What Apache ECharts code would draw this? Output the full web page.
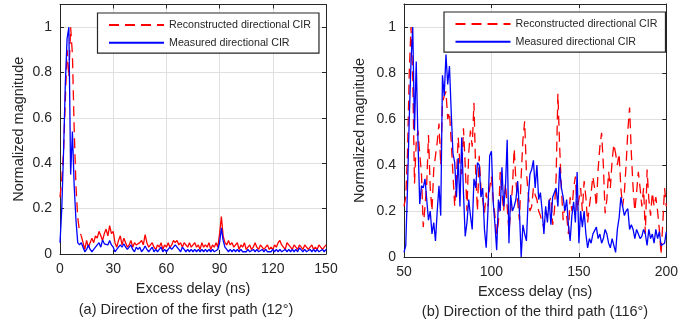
<!DOCTYPE html>
<html>
<head>
<meta charset="utf-8">
<script src="https://cdn.jsdelivr.net/npm/echarts@6/dist/echarts.min.js"></script>
<style>html,body{margin:0;padding:0;background:#fff;}#chart{width:681px;height:327px;}</style>
</head>
<body>
<div id="chart"></div>
<script>
// ---------- data ----------
const seriesNames = ['Reconstructed directional CIR', 'Measured directional CIR'];
const captions = ['(a) Direction of the first path (12°)', '(b) Direction of the third path (116°)'];
const xLabel = 'Excess delay (ns)';
const yLabel = 'Normalized magnitude';
const leftDelayStart = 0;   // ns, sample spacing 1 ns
const rightDelayStart = 50; // ns, sample spacing 1 ns
const delayStep = 1;
const leftXTicks = [0, 150, 30];   // min, max, interval
const rightXTicks = [50, 200, 50];
const yTicks = [0, 1.1, 0.2];

// (a) first path, 0..150 ns
const leftReconstructed = [
  0.25,0.33,0.45,0.68,0.90,0.78,1.00,0.88,0.55,0.30,0.16,0.10,0.08,
  0.05,0.02,0.06,0.03,0.05,0.07,0.05,0.08,
  0.07,0.10,0.08,0.06,0.09,0.11,0.08,0.125,0.09,0.10,
  0.05,0.03,0.06,0.08,0.04,0.07,0.05,0.03,0.04,0.06,
  0.03,0.05,0.04,0.04,0.05,0.06,0.04,0.085,0.05,0.03,
  0.04,0.05,0.03,0.02,0.04,0.03,0.05,0.02,0.04,0.03,
  0.05,0.03,0.04,0.06,0.05,0.06,0.04,0.05,0.03,0.05,
  0.04,0.03,0.05,0.03,0.04,0.05,0.03,0.04,0.02,0.05,
  0.03,0.04,0.03,0.05,0.02,0.04,0.03,0.05,0.03,0.09,
  0.165,0.08,0.05,0.04,0.06,0.04,0.05,0.03,0.04,0.05,
  0.02,0.04,0.03,0.05,0.02,0.03,0.04,0.02,0.03,0.05,
  0.03,0.02,0.04,0.03,0.02,0.03,0.04,0.02,0.03,0.02,
  0.04,0.03,0.05,0.06,0.04,0.03,0.02,0.05,0.04,0.03,
  0.02,0.04,0.03,0.02,0.04,0.03,0.02,0.04,0.03,0.02,
  0.03,0.04,0.02,0.03,0.02,0.04,0.03,0.02,0.03,0.04
];
const leftMeasured = [
  0.05,0.20,0.45,0.75,0.95,1.00,0.35,0.54,0.30,0.15,0.05,0.04,0.05,
  0.03,0.01,0.02,0.04,0.02,0.01,0.02,0.03,
  0.04,0.05,0.03,0.062,0.045,0.05,0.04,0.06,0.04,0.03,
  0.01,0.02,0.03,0.04,0.03,0.045,0.03,0.02,0.03,0.04,
  0.02,0.01,0.03,0.02,0.03,0.01,0.02,0.035,0.02,0.01,
  0.02,0.03,0.01,0.02,0.01,0.02,0.03,0.01,0.02,0.01,
  0.02,0.03,0.02,0.03,0.04,0.03,0.02,0.01,0.03,0.02,
  0.01,0.02,0.01,0.02,0.01,0.02,0.01,0.02,0.01,0.02,
  0.01,0.02,0.01,0.02,0.01,0.02,0.01,0.01,0.02,0.05,
  0.115,0.06,0.03,0.02,0.01,0.02,0.01,0.02,0.01,0.02,
  0.01,0.02,0.01,0.015,0.01,0.02,0.01,0.01,0.02,0.01,
  0.02,0.01,0.01,0.02,0.01,0.02,0.01,0.015,0.01,0.02,
  0.01,0.02,0.01,0.02,0.01,0.01,0.02,0.01,0.02,0.01,
  0.02,0.01,0.02,0.01,0.027,0.02,0.01,0.02,0.01,0.01,
  0.02,0.01,0.02,0.01,0.02,0.01,0.01,0.02,0.01,0.02
];

// (b) third path, 50..200 ns
const rightReconstructed = [
  0.22,0.26,0.45,0.80,1.00,0.78,0.32,0.50,0.55,0.45,
  0.36,0.13,0.22,0.32,0.53,0.30,0.20,0.38,0.44,0.50,
  0.58,0.40,0.67,0.70,0.72,0.60,0.63,0.50,0.36,0.22,
  0.35,0.52,0.40,0.36,0.56,0.40,0.20,0.45,0.55,0.48,
  0.67,0.37,0.20,0.44,0.30,0.25,0.19,0.28,0.22,0.30,
  0.35,0.25,0.18,0.10,0.15,0.37,0.28,0.20,0.32,0.22,
  0.11,0.20,0.30,0.47,0.33,0.24,0.16,0.35,0.51,0.59,
  0.37,0.28,0.20,0.22,0.30,0.27,0.25,0.20,0.18,0.15,
  0.13,0.20,0.18,0.24,0.26,0.14,0.20,0.35,0.71,0.48,
  0.30,0.16,0.22,0.18,0.10,0.26,0.20,0.30,0.35,0.20,
  0.25,0.30,0.20,0.33,0.26,0.15,0.22,0.28,0.35,0.30,
  0.22,0.38,0.48,0.54,0.40,0.19,0.25,0.37,0.30,0.42,
  0.49,0.45,0.40,0.45,0.30,0.22,0.28,0.40,0.55,0.65,
  0.45,0.30,0.20,0.28,0.37,0.30,0.22,0.30,0.10,0.38,
  0.25,0.18,0.28,0.22,0.26,0.20,0.12,0.01,0.15,0.30,
  0.22
];
const rightMeasured = [
  0.02,0.05,0.30,0.60,0.85,1.00,0.55,0.85,0.50,0.23,
  0.31,0.30,0.34,0.25,0.16,0.20,0.10,0.15,0.07,0.20,
  0.31,0.18,0.79,0.70,0.88,0.75,0.83,0.63,0.45,0.41,
  0.26,0.43,0.22,0.52,0.28,0.09,0.15,0.25,0.18,0.12,
  0.34,0.30,0.41,0.40,0.26,0.30,0.12,0.04,0.20,0.44,
  0.46,0.24,0.14,0.03,0.25,0.20,0.39,0.22,0.30,0.51,
  0.06,0.27,0.20,0.22,0.25,0.33,0.20,0.00,0.14,0.10,
  0.07,0.25,0.36,0.38,0.42,0.30,0.40,0.25,0.28,0.20,
  0.10,0.22,0.15,0.25,0.14,0.26,0.28,0.30,0.22,0.39,
  0.30,0.26,0.20,0.25,0.14,0.07,0.18,0.24,0.15,0.37,
  0.06,0.20,0.13,0.20,0.10,0.04,0.08,0.06,0.10,0.10,
  0.13,0.08,0.10,0.06,0.08,0.12,0.10,0.06,0.04,0.08,
  0.05,0.02,0.12,0.17,0.26,0.22,0.18,0.20,0.21,0.12,
  0.14,0.12,0.08,0.12,0.10,0.08,0.09,0.12,0.10,0.05,
  0.12,0.08,0.10,0.06,0.12,0.08,0.11,0.05,0.05,0.06,
  0.11
];

// ---------- chart ----------
const RED = '#ff0000', BLUE = '#0000ff', INK = '#262626', GRIDC = '#e0e0e0';
const FONT = 'Liberation Sans';
const DASH = [10, 6];

function pairs(arr, start, from, to) {
  const out = [];
  const end = to === undefined ? arr.length - 1 : to;
  for (let i = from; i <= end; i++) out.push([start + i * delayStep, arr[i]]);
  return out;
}

const grids = [
  { left: 60, right: 355, top: 4.5, bottom: 73 },
  { left: 404, right: 10, top: 4, bottom: 70 }
];

function xAxes(gi, t) {
  const base = { gridIndex: gi, type: 'value', min: t[0], max: t[1], interval: t[2] };
  return [
    Object.assign({}, base, {
      position: 'bottom',
      axisLine: { show: true, onZero: false, lineStyle: { color: INK, width: 1 } },
      axisTick: { show: true, inside: true, length: 4, lineStyle: { color: INK } },
      axisLabel: { color: INK, fontSize: 14, fontFamily: FONT, margin: 8 },
      splitLine: { show: true, lineStyle: { color: GRIDC, width: 1 } },
      name: xLabel, nameLocation: 'middle', nameGap: 27,
      nameTextStyle: { color: INK, fontSize: 14.5, fontFamily: FONT }
    }),
    Object.assign({}, base, {
      position: 'top',
      axisLine: { show: true, onZero: false, lineStyle: { color: INK, width: 1 } },
      axisTick: { show: true, inside: true, length: 4, lineStyle: { color: INK } },
      axisLabel: { show: false }, splitLine: { show: false }
    })
  ];
}
function yAxes(gi, gap) {
  const base = { gridIndex: gi, type: 'value', min: yTicks[0], max: yTicks[1], interval: yTicks[2] };
  return [
    Object.assign({}, base, {
      position: 'left',
      axisLine: { show: true, onZero: false, lineStyle: { color: INK, width: 1 } },
      axisTick: { show: true, inside: true, length: 4, lineStyle: { color: INK } },
      axisLabel: { color: INK, fontSize: 14, fontFamily: FONT, margin: 8, showMaxLabel: false },
      splitLine: { show: true, lineStyle: { color: GRIDC, width: 1 } },
      name: yLabel, nameLocation: 'middle', nameGap: gap,
      nameTextStyle: { color: INK, fontSize: 14.5, fontFamily: FONT }
    }),
    Object.assign({}, base, {
      position: 'right',
      axisLine: { show: true, onZero: false, lineStyle: { color: INK, width: 1 } },
      axisTick: { show: true, inside: true, length: 4, lineStyle: { color: INK } },
      axisLabel: { show: false }, splitLine: { show: false }
    })
  ];
}

function line(name, xi, yi, data, color, dashed) {
  return {
    name: name, type: 'line', xAxisIndex: xi, yAxisIndex: yi, data: data,
    showSymbol: false, symbol: 'none', animation: false, silent: true,
    lineStyle: { color: color, width: 1.3, type: dashed ? DASH : 'solid' },
    itemStyle: { color: color }
  };
}

function legend(left, top) {
  return {
    left: left, top: top, orient: 'vertical',
    data: seriesNames,
    itemWidth: 55, itemHeight: 10, itemGap: 6.7,
    padding: [6.5, 8, 5, 10.5],
    borderColor: INK, borderWidth: 1.2, backgroundColor: '#fff',
    itemStyle: { opacity: 0, borderWidth: 0 },
    textStyle: { color: INK, fontSize: 10.7, fontFamily: FONT },
    selectedMode: false
  };
}

const option = {
  animation: false,
  backgroundColor: '#fff',
  grid: grids,
  xAxis: xAxes(0, leftXTicks).concat(xAxes(1, rightXTicks)),
  yAxis: yAxes(0, 34).concat(yAxes(1, 37)),
  legend: [legend(97.5, 13), legend(444, 12)],
  series: [
    line(seriesNames[0], 0, 0, pairs(leftReconstructed, leftDelayStart, 0, 12), RED, true),
    line('Reconstructed tail', 0, 0, pairs(leftReconstructed, leftDelayStart, 12), RED, false),
    line(seriesNames[1], 0, 0, pairs(leftMeasured, leftDelayStart, 0), BLUE, false),
    line(seriesNames[0], 2, 2, pairs(rightReconstructed, rightDelayStart, 0), RED, true),
    line(seriesNames[1], 2, 2, pairs(rightMeasured, rightDelayStart, 0), BLUE, false)
  ],
  graphic: [
    { type: 'text', x: 186, y: 310, style: { text: captions[0], fill: INK, font: '14.5px "Liberation Sans"', textAlign: 'center', textVerticalAlign: 'middle' } },
    { type: 'text', x: 535, y: 312, style: { text: captions[1], fill: INK, font: '14.5px "Liberation Sans"', textAlign: 'center', textVerticalAlign: 'middle' } }
  ]
};

const chart = echarts.init(document.getElementById('chart'), null, { renderer: 'canvas' });
chart.setOption(option);
</script>
</body>
</html>
